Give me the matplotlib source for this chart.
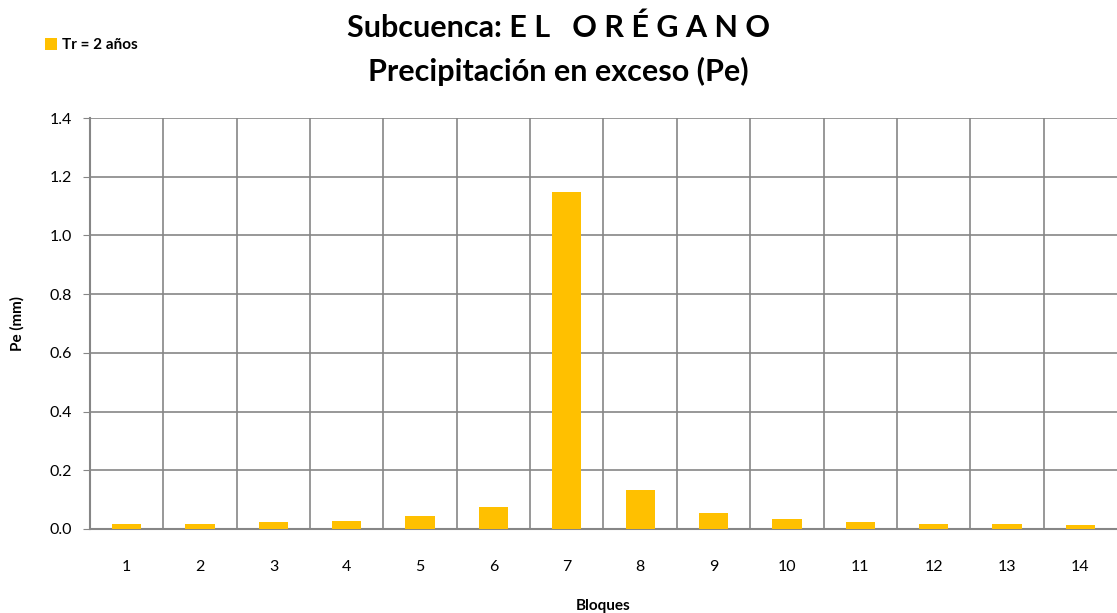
import numpy as np
import matplotlib.pyplot as plt

# data
bloques = [str(i) for i in range(1, 15)]
pe = [0.017, 0.017, 0.023, 0.026, 0.043, 0.075, 1.148, 0.133, 0.054, 0.034, 0.023, 0.017, 0.017, 0.013]
yticks = [0.0, 0.2, 0.4, 0.6, 0.8, 1.0, 1.2, 1.4]

plt.rcParams['font.family'] = ['Lato', 'DejaVu Sans']

fig = plt.figure(figsize=(11.17, 6.13), dpi=100)
ax = fig.add_axes([90/1117, 1 - 529/613, (1117 - 90)/1117, (529 - 118)/613])

x = np.arange(len(bloques))
ax.bar(x, pe, width=0.4, color='#FFC000', label='Tr = 2 años', zorder=3)

ax.set_xlim(-0.5, len(bloques) - 0.5)
ax.set_ylim(0, 1.4)
ax.set_yticks(yticks)
ax.set_yticklabels([f'{v:.1f}' for v in yticks], fontsize=11.5)
ax.set_xticks(x)
ax.set_xticklabels(bloques, fontsize=11.5)
ax.tick_params(axis='x', length=0, pad=22)
ax.tick_params(axis='y', length=5, color='#868686', pad=8)

# gridlines: horizontal at ticks, vertical between categories
for v in yticks:
    ax.axhline(v, color='#868686', lw=1.2, zorder=1)
for b in np.arange(0.5, len(bloques) - 0.5, 1.0):
    ax.axvline(b, color='#868686', lw=1.2, zorder=1)

for s in ['top', 'right']:
    ax.spines[s].set_visible(False)
for s in ['left', 'bottom']:
    ax.spines[s].set_color('#868686')
    ax.spines[s].set_linewidth(1.5)

ax.set_ylabel('Pe (mm)', fontsize=11, fontweight='bold', labelpad=18)
ax.set_xlabel('Bloques', fontsize=11, fontweight='bold', labelpad=18)

fig.text(0.5, 0.954, 'Subcuenca: E L   O R É G A N O', ha='center', va='center',
         fontsize=22, fontweight='bold')
fig.text(0.5, 0.883, 'Precipitación en exceso (Pe)', ha='center', va='center',
         fontsize=22, fontweight='bold')

fig.legend(loc='upper left', bbox_to_anchor=(0.028, 0.96), frameon=False,
           prop={'size': 11, 'weight': 'bold'}, handlelength=0.8, handleheight=0.8,
           handletextpad=0.3)

fig.savefig('out.png', dpi=100)
